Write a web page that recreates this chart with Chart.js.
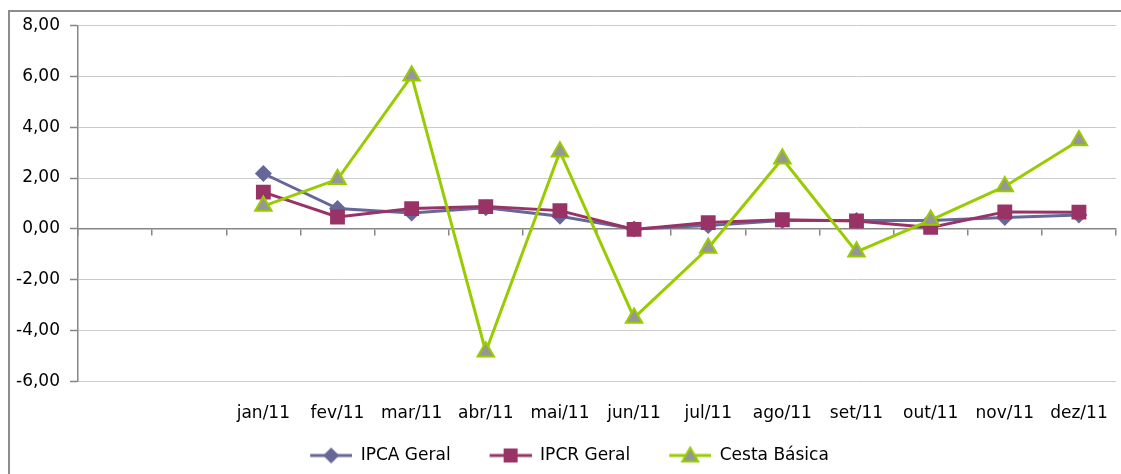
<!DOCTYPE html>
<html>
<head>
<meta charset="utf-8">
<script src="https://cdn.jsdelivr.net/npm/chart.js@4/dist/chart.umd.min.js"></script>
<style>
  html, body { margin: 0; padding: 0; background: #fff; overflow: hidden; }
  #frame { position: absolute; left: 8px; top: 10px; width: 1200px; height: 600px; border: 2px solid #8c8c8c; box-sizing: border-box; }
  #wrap { position: absolute; left: 0; top: 0; width: 1121px; height: 474px; }
</style>
</head>
<body>
<div id="frame"></div>
<div id="wrap"><canvas id="c" width="1121" height="474"></canvas></div>
<script>
const categories = ['', '', 'jan/11', 'fev/11', 'mar/11', 'abr/11', 'mai/11', 'jun/11', 'jul/11', 'ago/11', 'set/11', 'out/11', 'nov/11', 'dez/11'];
const ipcaGeral = [null, null, 2.18, 0.80, 0.63, 0.83, 0.50, 0.00, 0.13, 0.33, 0.33, 0.33, 0.45, 0.55];
const ipcrGeral = [null, null, 1.45, 0.47, 0.80, 0.88, 0.72, -0.02, 0.25, 0.36, 0.31, 0.06, 0.67, 0.66];
const cestaBasica = [null, null, 0.90, 1.95, 6.02, -4.83, 3.04, -3.50, -0.75, 2.76, -0.90, 0.35, 1.67, 3.48];
const seriesNames = ['IPCA Geral', 'IPCR Geral', 'Cesta Básica'];
const yTicks = { min: -6, max: 8, step: 2 };

const FONT = 'DejaVu Sans';
const C_IPCA = '#666699';
const C_IPCR = '#993366';
const C_CESTA = '#99CC00';
const C_TRI = '#969696';

const LEG_W = 65, LEG_LINE = 42;
function legendImage(kind) {
  const cv = document.createElement('canvas');
  cv.width = LEG_W; cv.height = 20;
  const ctx = cv.getContext('2d');
  const cy = 10, x0 = LEG_W - LEG_LINE, cx = x0 + LEG_LINE / 2;
  ctx.lineWidth = 3;
  ctx.strokeStyle = kind === 0 ? C_IPCA : kind === 1 ? C_IPCR : C_CESTA;
  ctx.beginPath(); ctx.moveTo(x0, cy); ctx.lineTo(LEG_W, cy); ctx.stroke();
  if (kind === 0) {
    ctx.fillStyle = C_IPCA;
    ctx.beginPath(); ctx.moveTo(cx - 8, cy); ctx.lineTo(cx, cy - 8); ctx.lineTo(cx + 8, cy); ctx.lineTo(cx, cy + 8); ctx.closePath(); ctx.fill();
  } else if (kind === 1) {
    ctx.fillStyle = C_IPCR;
    ctx.fillRect(cx - 7, cy - 7, 14, 14);
  } else {
    ctx.fillStyle = C_TRI; ctx.strokeStyle = C_CESTA; ctx.lineWidth = 2;
    ctx.beginPath(); ctx.moveTo(cx, cy - 8); ctx.lineTo(cx + 8, cy + 6); ctx.lineTo(cx - 8, cy + 6); ctx.closePath(); ctx.fill(); ctx.stroke();
  }
  return cv;
}

const noPad = (s) => { s.paddingLeft = 0; s.paddingRight = 0; };

new Chart(document.getElementById('c'), {
  type: 'line',
  data: {
    labels: categories,
    datasets: [
      { label: seriesNames[0], data: ipcaGeral, borderColor: C_IPCA, backgroundColor: C_IPCA, borderWidth: 3,
        pointStyle: 'rectRot', pointRadius: 8.5, pointBorderWidth: 0, pointBackgroundColor: C_IPCA, order: 2, tension: 0 },
      { label: seriesNames[1], data: ipcrGeral, borderColor: C_IPCR, backgroundColor: C_IPCR, borderWidth: 3,
        pointStyle: 'rect', pointRadius: 10.5, pointBorderWidth: 0, pointBackgroundColor: C_IPCR, order: 1, tension: 0 },
      { label: seriesNames[2], data: cestaBasica, borderColor: C_CESTA, backgroundColor: C_TRI, borderWidth: 3,
        pointStyle: 'triangle', pointRadius: 9.5, pointBorderWidth: 2, pointBorderColor: C_CESTA, pointBackgroundColor: C_TRI, order: 0, tension: 0 }
    ]
  },
  options: {
    responsive: false,
    animation: false,
    spanGaps: false,
    layout: { autoPadding: false, padding: { left: 0, top: 25.5, right: 5, bottom: 0 } },
    plugins: {
      tooltip: { enabled: false },
      legend: {
        position: 'bottom',
        labels: {
          usePointStyle: true,
          pointStyleWidth: LEG_W,
          boxHeight: 17,
          padding: 16,
          color: '#000',
          font: { family: FONT, size: 17 },
          generateLabels: (chart) => chart.data.datasets.map((ds, i) => ({
            text: ds.label,
            pointStyle: legendImage(i),
            fillStyle: ds.borderColor,
            strokeStyle: ds.borderColor,
            lineWidth: 0,
            hidden: false,
            datasetIndex: i,
            fontColor: '#000'
          }))
        }
      }
    },
    scales: {
      x: {
        type: 'category',
        offset: true,
        grid: { display: false, drawTicks: false },
        border: { display: false },
        ticks: { color: '#000', font: { family: FONT, size: 17 }, padding: 22, maxRotation: 0, autoSkip: false },
        afterFit: (s) => { s.height = 49.5; noPad(s); }
      },
      x2: {
        type: 'category',
        labels: categories,
        position: { y: 0 },
        offset: true,
        grid: { display: true, drawOnChartArea: false, drawTicks: true, tickLength: 6, color: '#868686', lineWidth: 1.5, offset: true },
        border: { display: true, color: '#868686', width: 1.5 },
        ticks: { display: false },
        afterFit: noPad
      },
      y: {
        min: yTicks.min,
        max: yTicks.max,
        ticks: {
          stepSize: yTicks.step,
          color: '#000',
          padding: 10,
          font: { family: FONT, size: 17 },
          callback: (v) => Number(v).toFixed(2).replace('.', ',')
        },
        grid: { color: '#cacaca', lineWidth: 1, borderDash: [2, 2], tickLength: 8, tickColor: '#868686', tickBorderDash: [], tickWidth: 1.5 },
        border: { display: true, color: '#868686', width: 1.5 },
        afterFit: (s) => { s.width = 78; }
      }
    }
  }
});
</script>
</body>
</html>
